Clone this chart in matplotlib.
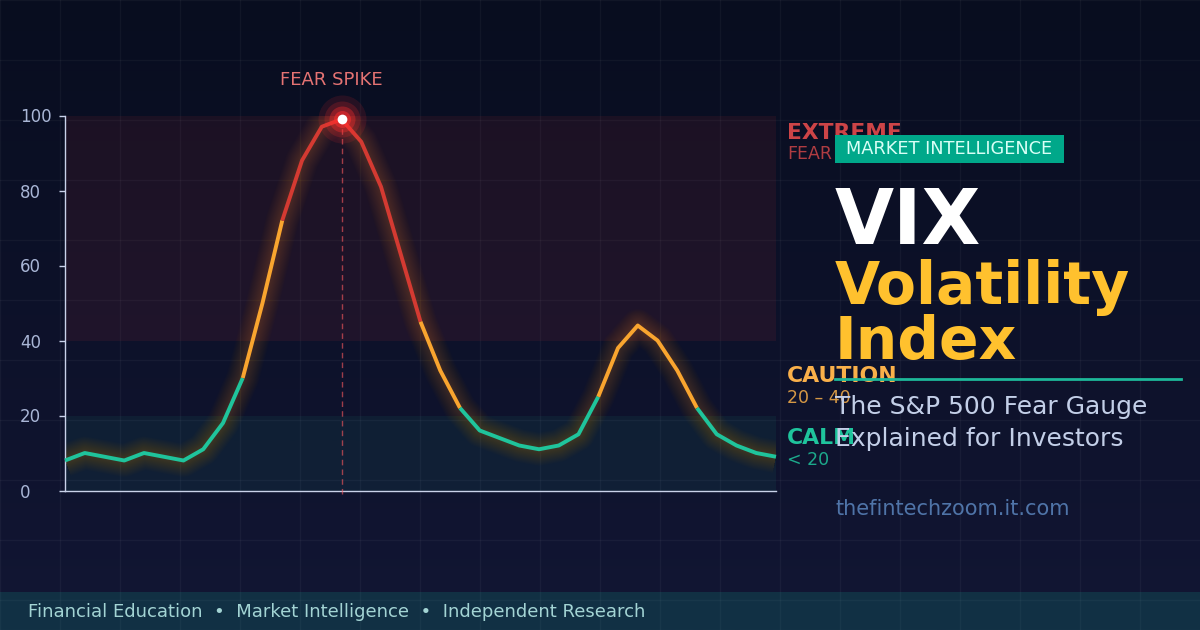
import numpy as np
import matplotlib
matplotlib.use("Agg")
import matplotlib.pyplot as plt

# VIX reading at each step
vix = [8, 10, 9, 8, 10, 9, 8, 11, 18, 30, 50, 72, 88, 97, 99, 93, 81, 63, 45,
       32, 22, 16, 14, 12, 11, 12, 15, 25, 38, 44, 40, 32, 22, 15, 12, 10, 9]
steps = list(range(len(vix)))
y_ticks = [0, 20, 40, 60, 80, 100]

# (start, end, colour) pieces of the line
pieces = [(0, 9, "#1fc49c"), (9, 11, "#f9a52f"), (11, 18, "#d43a32"),
          (18, 20, "#f9a52f"), (20, 27, "#1fc49c"), (27, 32, "#f9a52f"),
          (32, 36, "#1fc49c")]

W, H = 1200, 630
fig = plt.figure(figsize=(12, 6.3), dpi=100)

# background gradient and faint grid
bg = fig.add_axes([0, 0, 1, 1], zorder=0)
grad = np.linspace(0, 1, 256).reshape(-1, 1, 1)
top = np.array([8, 13, 31]) / 255
bot = np.array([18, 22, 52]) / 255
bg.imshow(top + (bot - top) * grad, aspect="auto", extent=[0, W, H, 0])
for gx in range(0, W, 60):
    bg.axvline(gx, color="white", alpha=0.04, lw=1)
for gy in range(0, H, 60):
    bg.axhline(gy, color="white", alpha=0.04, lw=1)
bg.set_xlim(0, W)
bg.set_ylim(H, 0)
bg.axis("off")

# chart
ax = fig.add_axes([65 / W, (H - 490.5) / H, 711 / W, 375 / H], zorder=1)
ax.patch.set_alpha(0)
ax.set_xlim(0, 36)
ax.set_ylim(0, 100)
ax.axhspan(40, 100, color="#ff3b3b", alpha=0.075, lw=0)
ax.axhspan(0, 20, color="#1fc49c", alpha=0.07, lw=0)

# soft glow under the line
for lw in np.linspace(3, 24, 22):
    ax.plot(steps, vix, color="#ff8a24", lw=lw, alpha=0.012, solid_capstyle="butt",
            solid_joinstyle="round")

for start, end, col in pieces:
    ax.plot(steps[start:end + 1], vix[start:end + 1], color=col, lw=2.8,
            solid_capstyle="butt", clip_on=False, zorder=4)

peak = int(np.argmax(vix))
ax.plot([steps[peak], steps[peak]], [-1, vix[peak]], color="#ff5a5f", lw=1,
        ls=(0, (4, 3)), alpha=0.6, clip_on=False, zorder=3)
for size, col, a in [(48, "#ff2d2d", .12), (36, "#ff2d2d", .18), (26, "#ff2d2d", .35),
                     (17, "#ff2d2d", .5)]:
    ax.plot(steps[peak], vix[peak], "o", ms=size * .72, color=col, alpha=a, mew=0,
            clip_on=False, zorder=5)
ax.plot(steps[peak], vix[peak], "o", ms=7, color="white", mew=0, clip_on=False, zorder=6)

for s in ["top", "right"]:
    ax.spines[s].set_visible(False)
for s in ["left", "bottom"]:
    ax.spines[s].set_color("#c9d2ea")
    ax.spines[s].set_linewidth(1)
ax.set_xticks([])
ax.set_yticks(y_ticks)
ax.tick_params(axis="y", colors="#c9d2ea", length=4.5, width=1, labelsize=12,
               labelcolor="#a9b6d6", pad=28)
for lab in ax.get_yticklabels():
    lab.set_ha("left")
    lab.set_va("center_baseline")

# text and badges in pixel coordinates
ov = fig.add_axes([0, 0, 1, 1], zorder=2)
ov.set_xlim(0, W)
ov.set_ylim(H, 0)
ov.axis("off")


def put(x, y, s, size, col, weight="normal", ha="left", alpha=1, z=3):
    ov.text(x, y, s, fontsize=size, color=col, fontweight=weight, ha=ha, va="center",
            alpha=alpha, zorder=z)


put(331, 80, "FEAR SPIKE", 13, "#e57373", ha="center")

put(787, 133, "EXTREME", 15.7, "#d9484a", "bold", alpha=.95, z=1)
put(787, 154, "FEAR", 12.5, "#d9484a", alpha=.8, z=1)
put(787, 376, "CAUTION", 15.8, "#f9b04a", "bold", z=1)
put(787, 398, "20 – 40", 12.5, "#f9b04a", alpha=.85, z=1)
put(787, 438, "CALM", 15.8, "#1fc49c", "bold", z=1)
put(787, 460, "< 20", 12.5, "#1fc49c", alpha=.85, z=1)

ov.add_patch(plt.Rectangle((835, 135), 229, 28, color="#00a88a", lw=0, zorder=2))
put(846, 149, "MARKET INTELLIGENCE", 12.8, "#d8fff6")

put(835, 223, "VIX", 55, "white", "bold")
put(835, 288, "Volatility", 42, "#ffc12e", "bold")
put(835, 343, "Index", 42, "#ffc12e", "bold")
ov.plot([835, 1181], [379, 379], color="#1db899", lw=2, zorder=2)
put(835, 407, "The S&P 500 Fear Gauge", 18, "#c3cfe8")
put(835, 439, "Explained for Investors", 18, "#c3cfe8")
put(835, 509, "thefintechzoom.it.com", 15, "#4f74a8")

ov.add_patch(plt.Rectangle((0, 592), W, 38, color="#14a08c", alpha=.2, lw=0, zorder=2))
put(28, 612, "Financial Education  •  Market Intelligence  •  Independent Research", 13,
    "#a3d4d4")

fig.savefig("out.png", dpi=100)
